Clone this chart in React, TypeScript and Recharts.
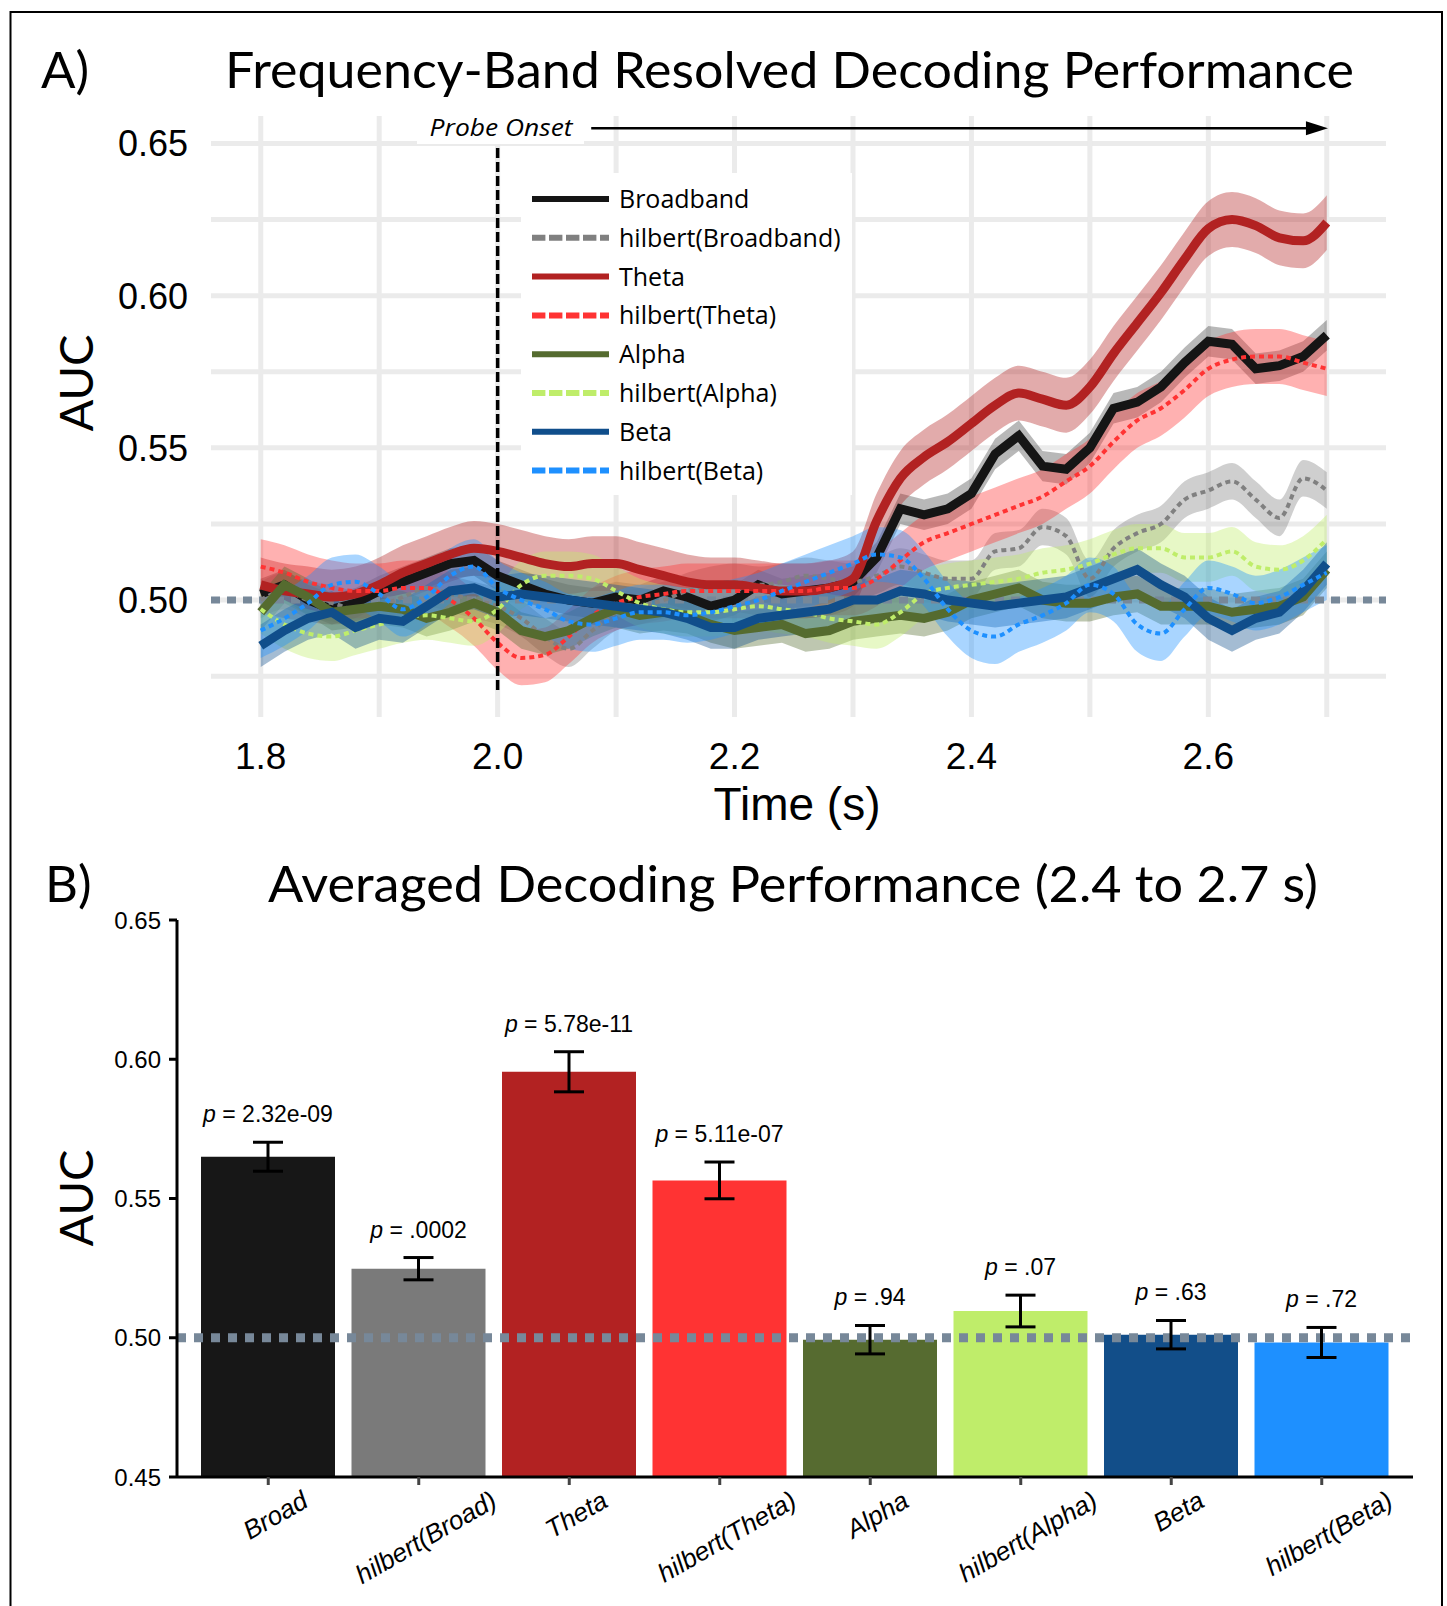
import React from "react";
import {
  ComposedChart,
  Area,
  Line,
  Bar,
  Cell,
  ErrorBar,
  LabelList,
  XAxis,
  YAxis,
  CartesianGrid,
  ReferenceLine,
} from "recharts";

// ---- panel A: time-resolved AUC ----
const times = [
  1.8, 1.82, 1.84, 1.86, 1.88, 1.9, 1.92, 1.94, 1.96, 1.98,
  2.0, 2.02, 2.04, 2.06, 2.08, 2.1, 2.12, 2.14, 2.16, 2.18,
  2.2, 2.22, 2.24, 2.26, 2.28, 2.3, 2.32, 2.34, 2.36, 2.38,
  2.4, 2.42, 2.44, 2.46, 2.48, 2.5, 2.52, 2.54, 2.56, 2.58,
  2.6, 2.62, 2.64, 2.66, 2.68, 2.7,
];

const broadband = [
  0.502, 0.505, 0.5, 0.497, 0.499, 0.503, 0.506, 0.509, 0.512, 0.513,
  0.508, 0.505, 0.502, 0.5, 0.499, 0.501, 0.5, 0.503, 0.501, 0.498,
  0.5, 0.505, 0.502, 0.503, 0.504, 0.506, 0.514, 0.53, 0.528, 0.53,
  0.535, 0.548, 0.554, 0.544, 0.543, 0.55, 0.563, 0.565, 0.57, 0.578,
  0.585, 0.584, 0.576, 0.577, 0.58, 0.587,
];
const hilbertBroadband = [
  0.5, 0.503, 0.5, 0.499, 0.497, 0.498, 0.501, 0.504, 0.502, 0.5,
  0.498, 0.494, 0.488, 0.484, 0.49, 0.496, 0.498, 0.5, 0.503, 0.505,
  0.506, 0.505, 0.506, 0.508, 0.507, 0.506, 0.508, 0.511, 0.509, 0.507,
  0.507, 0.516, 0.517, 0.524, 0.521, 0.507, 0.517, 0.522, 0.525, 0.533,
  0.536, 0.539, 0.533, 0.527, 0.54, 0.536,
];
const theta = [
  0.505, 0.503, 0.502, 0.501, 0.502, 0.505, 0.509, 0.512, 0.515, 0.517,
  0.516, 0.514, 0.512, 0.511, 0.512, 0.512, 0.51, 0.508, 0.506, 0.505,
  0.505, 0.504, 0.503, 0.503, 0.504, 0.507, 0.526, 0.54, 0.547, 0.552,
  0.558, 0.564, 0.568, 0.566, 0.564, 0.57, 0.581, 0.591, 0.601, 0.612,
  0.622, 0.625, 0.623, 0.619, 0.618, 0.624,
];
const hilbertTheta = [
  0.511, 0.509, 0.506, 0.504, 0.503, 0.503, 0.504, 0.504, 0.5, 0.494,
  0.486, 0.481, 0.482, 0.488, 0.495, 0.499, 0.501, 0.502, 0.503, 0.503,
  0.503, 0.503, 0.503, 0.503, 0.504, 0.504, 0.507, 0.513, 0.519, 0.522,
  0.525, 0.528, 0.531, 0.534, 0.539, 0.544, 0.552, 0.559, 0.563, 0.569,
  0.576, 0.579, 0.58, 0.58, 0.578, 0.576,
];
const alpha = [
  0.496, 0.505, 0.501, 0.496, 0.497, 0.498, 0.497, 0.494, 0.496, 0.499,
  0.496, 0.49, 0.488, 0.49, 0.494, 0.497, 0.495, 0.496, 0.495, 0.492,
  0.49, 0.491, 0.492, 0.489, 0.49, 0.493, 0.494, 0.495, 0.494, 0.496,
  0.5, 0.502, 0.504, 0.5, 0.499, 0.499, 0.501, 0.502, 0.498, 0.498,
  0.498, 0.496, 0.497, 0.498, 0.501, 0.51,
];
const hilbertAlpha = [
  0.497, 0.492, 0.489, 0.488, 0.49, 0.492, 0.494, 0.495, 0.494, 0.493,
  0.497, 0.505, 0.508, 0.508, 0.507, 0.503, 0.499, 0.497, 0.496, 0.496,
  0.497, 0.498, 0.497, 0.496, 0.494, 0.493, 0.492, 0.496, 0.502, 0.504,
  0.505, 0.506, 0.507, 0.509, 0.51, 0.512, 0.515, 0.517, 0.517, 0.514,
  0.514, 0.516, 0.511, 0.51, 0.513, 0.52,
];
const beta = [
  0.485, 0.49, 0.494, 0.496, 0.491, 0.494, 0.493, 0.498, 0.503, 0.504,
  0.501, 0.502, 0.501, 0.5, 0.499, 0.498, 0.497, 0.496, 0.494, 0.491,
  0.491, 0.494, 0.495, 0.496, 0.497, 0.5, 0.5, 0.503, 0.502, 0.5,
  0.499, 0.498, 0.499, 0.5, 0.501, 0.504, 0.507, 0.51, 0.505, 0.501,
  0.494, 0.49, 0.494, 0.496, 0.503, 0.512,
];
const hilbertBeta = [
  0.49, 0.494, 0.499, 0.505, 0.506, 0.502, 0.497, 0.501, 0.508, 0.511,
  0.504, 0.5, 0.497, 0.493, 0.492, 0.494, 0.496, 0.496, 0.495, 0.496,
  0.498, 0.5, 0.503, 0.506, 0.509, 0.512, 0.515, 0.514, 0.507, 0.497,
  0.49, 0.488, 0.492, 0.495, 0.499, 0.505, 0.502, 0.492, 0.489, 0.497,
  0.504, 0.502, 0.499, 0.501, 0.505, 0.509,
];

const seriesNames = [
  "Broadband", "hilbert(Broadband)", "Theta", "hilbert(Theta)",
  "Alpha", "hilbert(Alpha)", "Beta", "hilbert(Beta)",
];
const seriesValues = [
  broadband, hilbertBroadband, theta, hilbertTheta,
  alpha, hilbertAlpha, beta, hilbertBeta,
];
// half-width of the shaded error band, per series
const seriesSem = [0.005, 0.006, 0.009, 0.009, 0.006, 0.008, 0.007, 0.009];
const seriesColors = [
  "#151515", "#808080", "#b22222", "#ff3333",
  "#556b2f", "#bfed6a", "#104e8b", "#1e90ff",
];
const seriesDashed = [false, true, false, true, false, true, false, true];
const seriesCurve = ["linear", "monotone", "monotone", "monotone", "linear", "monotone", "linear", "monotone"];

const timeTicks = [1.8, 1.9, 2.0, 2.1, 2.2, 2.3, 2.4, 2.5, 2.6, 2.7];
const timeLabels = [1.8, 2.0, 2.2, 2.4, 2.6];
const aucGrid = [0.475, 0.5, 0.525, 0.55, 0.575, 0.6, 0.625, 0.65];
const timeDomain = [1.758, 2.75];
const aucDomain = [0.4616, 0.659];

// ---- panel B: averaged AUC ----
const barNames = [
  "Broad", "hilbert(Broad)", "Theta", "hilbert(Theta)",
  "Alpha", "hilbert(Alpha)", "Beta", "hilbert(Beta)",
];
const barMeans = [0.565, 0.5248, 0.5955, 0.5565, 0.4993, 0.5096, 0.5011, 0.4983];
const barErrors = [0.0052, 0.004, 0.0072, 0.0066, 0.0051, 0.0057, 0.0051, 0.0054];
const barP = ["2.32e-09", ".0002", "5.78e-11", "5.11e-07", ".94", ".07", ".63", ".72"];
const barColors = [
  "#171717", "#7a7a7a", "#b22222", "#ff3333",
  "#566b30", "#bfed6a", "#124e89", "#1e90ff",
];
const barTicks = [0.45, 0.5, 0.55, 0.6, 0.65];

const lineRows = times.map((t, i) => {
  const row: Record<string, any> = { t };
  seriesValues.forEach((vals, s) => {
    row[`s${s}`] = vals[i];
    row[`b${s}`] = [vals[i] - seriesSem[s], vals[i] + seriesSem[s]];
  });
  return row;
});

const barRows = barNames.map((name, i) => ({
  name,
  mean: barMeans[i],
  err: barErrors[i],
  p: barP[i],
}));

const SANS = '"Liberation Sans", Arial, sans-serif';
const AVENIR = 'Lato, "Open Sans", sans-serif';
const WIDE = '"Open Sans", Lato, sans-serif';

let measureCtx: CanvasRenderingContext2D | null = null;
function textWidth(s: string, font: string) {
  if (!measureCtx) measureCtx = document.createElement("canvas").getContext("2d");
  if (!measureCtx) return s.length * 12;
  measureCtx.font = font;
  return measureCtx.measureText(s).width;
}

const horizontalGrid = (args: any) => {
  const sc = args?.yAxis?.scale;
  if (typeof sc === "function") return aucGrid.map((v) => sc(v));
  const { top, height } = args.offset;
  return aucGrid.map((v) => top + ((aucDomain[1] - v) / (aucDomain[1] - aucDomain[0])) * height);
};
const verticalGrid = (args: any) => {
  const sc = args?.xAxis?.scale;
  if (typeof sc === "function") return timeTicks.map((v) => sc(v));
  const { left, width } = args.offset;
  return timeTicks.map((v) => left + ((v - timeDomain[0]) / (timeDomain[1] - timeDomain[0])) * width);
};

const TopYTick = (props: any) => {
  const { x, y, payload } = props;
  const v = payload.value as number;
  if (Math.round(v * 1000) % 50 !== 0) return <g />;
  return (
    <text x={x - 23} y={y + 13} textAnchor="end" fontSize={36} fontFamily={SANS} fill="#000">
      {v.toFixed(2)}
    </text>
  );
};

const TopXTick = (props: any) => {
  const { x, y, payload } = props;
  const v = payload.value as number;
  if (!timeLabels.some((l) => Math.abs(l - v) < 1e-6)) return <g />;
  return (
    <text x={x} y={y + 52} textAnchor="middle" fontSize={37} fontFamily={SANS} fill="#000">
      {v.toFixed(1)}
    </text>
  );
};

const BottomYTick = (props: any) => {
  const { x, y, payload } = props;
  return (
    <text x={x} y={y + 8.5} textAnchor="end" fontSize={24} fontFamily={SANS} fill="#000">
      {(payload.value as number).toFixed(2)}
    </text>
  );
};

const BottomXTick = (props: any) => {
  const { x, payload } = props;
  const label = String(payload.value);
  const len = textWidth(label, `italic 26px ${SANS}`);
  const cy = 1490 - 840 + (len * 0.5 + 18 * 0.866) / 2;
  const cx = x + 7;
  return (
    <text
      transform={`translate(${cx},${cy}) rotate(-30)`}
      textAnchor="middle"
      dy="0.35em"
      fontSize={26}
      fontStyle="italic"
      fontFamily={SANS}
      fill="#000"
    >
      {label}
    </text>
  );
};

const PLabel = (props: any) => {
  const { x, y, width, height, index } = props;
  const mean = barMeans[index];
  const err = barErrors[index];
  const pxPerUnit = height / (mean - 0.45);
  const errTop = y - err * pxPerUnit;
  return (
    <text x={x + width / 2} y={errTop - 20} textAnchor="middle" fontSize={23} fontFamily={SANS} fill="#000">
      <tspan fontStyle="italic">p</tspan>
      <tspan>{` = ${barP[index]}`}</tspan>
    </text>
  );
};

const ArrowShape = (props: any) => {
  const { x1, y1, x2, y2 } = props;
  return (
    <g>
      <line x1={x1} y1={y1} x2={x2 - 16} y2={y2} stroke="#000" strokeWidth={2.5} />
      <polygon points={`${x2},${y2} ${x2 - 22},${y2 - 7} ${x2 - 22},${y2 + 7}`} fill="#000" />
    </g>
  );
};

export default function App() {
  return (
    <div style={{ position: "relative", width: 1447, height: 1606, background: "#fff", overflow: "hidden" }}>
      <style>{"body{margin:0;}"}</style>

      <div style={{ position: "absolute", left: 0, top: 0 }}>
        <ComposedChart width={1447} height={850} data={lineRows} margin={{ top: 116, right: 61, bottom: 0, left: 0 }}>
          <CartesianGrid
            stroke="#ebebeb"
            strokeWidth={5}
            horizontalCoordinatesGenerator={horizontalGrid}
            verticalCoordinatesGenerator={verticalGrid}
          />
          <XAxis
            dataKey="t"
            type="number"
            domain={timeDomain}
            ticks={timeTicks}
            allowDataOverflow
            axisLine={false}
            tickLine={false}
            tickSize={0}
            tickMargin={0}
            height={133}
            interval={0}
            tick={TopXTick}
          />
          <YAxis
            type="number"
            domain={aucDomain}
            ticks={aucGrid}
            allowDataOverflow
            axisLine={false}
            tickLine={false}
            tickSize={0}
            tickMargin={0}
            width={211}
            interval={0}
            tick={TopYTick}
          />
          <ReferenceLine y={0.5} stroke="#778899" strokeWidth={7} strokeDasharray="9 7" />
          {seriesNames.map((name, s) => (
            <Area
              key={`band-${name}`}
              dataKey={`b${s}`}
              type={seriesCurve[s] as any}
              stroke="none"
              fill={seriesColors[s]}
              fillOpacity={s === 0 ? 0.3 : 0.38}
              isAnimationActive={false}
              activeDot={false}
            />
          ))}
          {seriesNames.map((name, s) => (
            <Line
              key={`line-${name}`}
              dataKey={`s${s}`}
              type={seriesCurve[s] as any}
              stroke={seriesColors[s]}
              strokeWidth={seriesDashed[s] ? 4 : 9}
              strokeDasharray={seriesDashed[s] ? "5 4" : undefined}
              dot={false}
              activeDot={false}
              isAnimationActive={false}
            />
          ))}
          <ReferenceLine
            segment={[{ x: 2.0, y: 0.4705 }, { x: 2.0, y: 0.6488 }]}
            stroke="#000"
            strokeWidth={3.5}
            strokeDasharray="10 4"
          />
          <ReferenceLine
            segment={[{ x: 2.079, y: 0.655 }, { x: 2.701, y: 0.655 }]}
            shape={ArrowShape}
          />
        </ComposedChart>
      </div>

      <div style={{ position: "absolute", left: 0, top: 840 }}>
        <ComposedChart
          width={1447}
          height={766}
          data={barRows}
          barGap={-134}
          margin={{ top: 80, right: 34, bottom: 0, left: 0 }}
        >
          <XAxis
            dataKey="name"
            type="category"
            padding={{ left: 16, right: 16 }}
            height={129}
            interval={0}
            axisLine={{ stroke: "#000", strokeWidth: 3 }}
            tickLine={{ stroke: "#444", strokeWidth: 3 }}
            tickSize={8}
            tick={BottomXTick}
          />
          <YAxis
            type="number"
            domain={[0.45, 0.65]}
            ticks={barTicks}
            allowDataOverflow
            width={177}
            interval={0}
            axisLine={{ stroke: "#000", strokeWidth: 3 }}
            tickLine={{ stroke: "#000", strokeWidth: 3 }}
            tickSize={8}
            tickMargin={8}
            tick={BottomYTick}
          />
          <Bar dataKey="mean" barSize={134} isAnimationActive={false}>
            {barRows.map((r, i) => (
              <Cell key={r.name} fill={barColors[i]} />
            ))}
            <LabelList dataKey="p" content={PLabel} />
          </Bar>
          <ReferenceLine y={0.5} stroke="#778899" strokeWidth={9} strokeDasharray="9 8" />
          <Bar dataKey="mean" barSize={134} fill="none" isAnimationActive={false} legendType="none">
            <ErrorBar dataKey="err" width={15} stroke="#000" strokeWidth={3} />
          </Bar>
        </ComposedChart>
      </div>

      <svg
        width={1447}
        height={1606}
        style={{ position: "absolute", left: 0, top: 0, pointerEvents: "none" }}
      >
        <path d="M10.5 1606 V12 H1442 V1606" fill="none" stroke="#000" strokeWidth={2} />

        <text x={41} y={88} fontSize={51} fontFamily={AVENIR} fill="#000">A)</text>
        <text x={789.5} y={88} textAnchor="middle" fontSize={51} fontFamily={AVENIR} fill="#000" textLength={1129} lengthAdjust="spacingAndGlyphs">
          Frequency-Band Resolved Decoding Performance
        </text>
        <text x={45} y={902} fontSize={51} fontFamily={AVENIR} fill="#000">B)</text>
        <text x={793} y={902} textAnchor="middle" fontSize={51} fontFamily={AVENIR} fill="#000" textLength={1050} lengthAdjust="spacingAndGlyphs">
          Averaged Decoding Performance (2.4 to 2.7 s)
        </text>

        <text transform="translate(93,383) rotate(-90)" textAnchor="middle" fontSize={47} fontFamily={AVENIR} fill="#000">AUC</text>
        <text transform="translate(93,1198) rotate(-90)" textAnchor="middle" fontSize={47} fontFamily={AVENIR} fill="#000">AUC</text>
        <text x={797} y={820} textAnchor="middle" fontSize={46} fontFamily={SANS} fill="#000">Time (s)</text>

        <rect x={417} y={113} width={167} height={31} fill="#fff" />
        <text x={501} y={136} textAnchor="middle" fontSize={23} fontStyle="italic" fontFamily={WIDE} fill="#000" textLength={143} lengthAdjust="spacingAndGlyphs">Probe Onset</text>

        <rect x={521} y={173} width={331} height={322} fill="#fff" />
        {seriesNames.map((name, s) => {
          const cy = 199 + s * 38.8;
          return (
            <g key={name}>
              <line
                x1={532}
                x2={609}
                y1={cy}
                y2={cy}
                stroke={seriesColors[s]}
                strokeWidth={6}
                strokeDasharray={seriesDashed[s] ? "13.4 3.6" : undefined}
              />
              <text x={619} y={cy + 9} fontSize={25} fontFamily={WIDE} fill="#000">{name}</text>
            </g>
          );
        })}
      </svg>
    </div>
  );
}
